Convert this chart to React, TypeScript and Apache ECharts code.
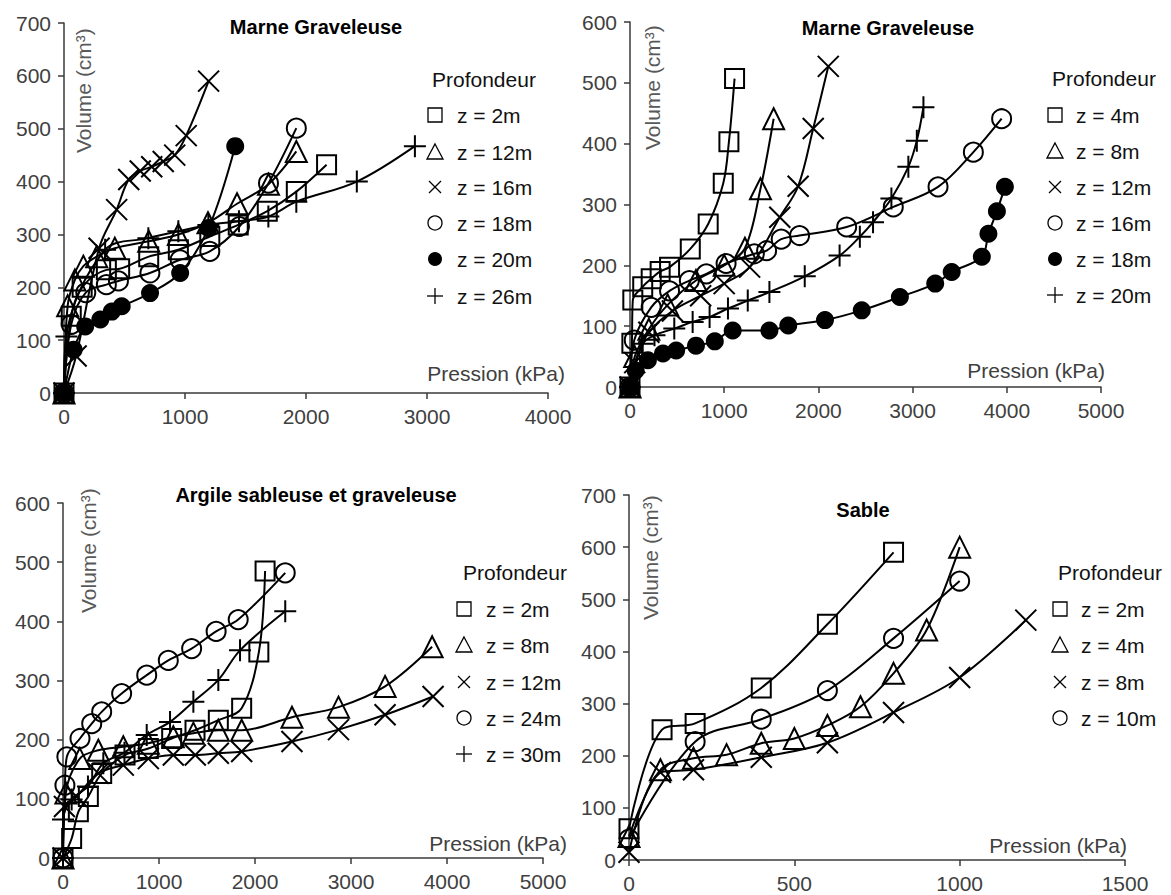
import React, { useEffect, useRef } from 'react';
import * as echarts from 'echarts';

const FONT = '"Liberation Sans", Arial, Helvetica, sans-serif';

// ---------- Panel 1 : Marne Graveleuse ----------
const p1Title = 'Marne Graveleuse';
const p1Names = ['z = 2m', 'z = 12m', 'z = 16m', 'z = 18m', 'z = 20m', 'z = 26m'];
const p1Markers = ['square', 'triangle', 'cross', 'circle', 'dot', 'plus'];
const mg1Z2 = [[0, 0], [60, 145], [150, 200], [350, 233], [460, 235], [700, 258], [945, 271], [1205, 296], [1440, 318], [1680, 344], [1920, 381], [2170, 432]];
const mg1Z12 = [[0, 0], [30, 165], [90, 214], [160, 240], [270, 258], [420, 274], [700, 287], [945, 300], [1190, 322], [1430, 358], [1690, 395], [1920, 457]];
const mg1Z16 = [[0, 0], [100, 70], [290, 274], [435, 347], [535, 404], [630, 420], [725, 428], [820, 438], [915, 450], [1010, 487], [1195, 590]];
const mg1Z18 = [[0, 0], [60, 130], [180, 190], [350, 205], [450, 212], [710, 227], [960, 252], [1205, 268], [1450, 315], [1690, 397], [1920, 501]];
const mg1Z20 = [[0, 0], [80, 82], [175, 126], [300, 139], [395, 154], [477, 164], [711, 189], [960, 227], [1195, 312], [1415, 467]];
const mg1Z26 = [[0, 0], [20, 107], [340, 271], [697, 293], [945, 306], [1193, 318], [1446, 325], [1689, 334], [1920, 362], [2420, 400], [2900, 467]];
const p1Data = [mg1Z2, mg1Z12, mg1Z16, mg1Z18, mg1Z20, mg1Z26];

// ---------- Panel 2 : Marne Graveleuse ----------
const p2Title = 'Marne Graveleuse';
const p2Names = ['z = 4m', 'z = 8m', 'z = 12m', 'z = 16m', 'z = 18m', 'z = 20m'];
const p2Markers = ['square', 'triangle', 'cross', 'circle', 'dot', 'plus'];
const mg2Z4 = [[0, 0], [20, 72], [30, 143], [135, 165], [225, 178], [320, 190], [420, 197], [640, 227], [830, 268], [990, 335], [1050, 403], [1110, 507]];
const mg2Z8 = [[0, 0], [50, 50], [200, 95], [400, 135], [700, 175], [1000, 200], [1220, 228], [1385, 326], [1525, 441]];
const mg2Z12 = [[0, 0], [50, 40], [200, 90], [450, 125], [750, 150], [1000, 170], [1270, 197], [1590, 279], [1785, 330], [1945, 425], [2105, 527]];
const mg2Z16 = [[0, 0], [45, 77], [225, 131], [420, 158], [630, 175], [810, 186], [1020, 203], [1320, 219], [1450, 224], [1605, 243], [1800, 249], [2300, 263], [2795, 296], [3270, 329], [3645, 386], [3945, 441]];
const mg2Z18 = [[0, 0], [60, 27], [190, 44], [350, 55], [490, 60], [700, 68], [900, 75], [1090, 93], [1480, 93], [1680, 101], [2070, 110], [2460, 126], [2865, 148], [3240, 170], [3415, 189], [3735, 214], [3805, 252], [3895, 289], [3980, 329]];
const mg2Z20 = [[0, 0], [135, 71], [260, 85], [470, 96], [665, 107], [845, 115], [1040, 129], [1250, 142], [1480, 156], [1855, 182], [2225, 216], [2440, 247], [2580, 271], [2775, 310], [2955, 362], [3045, 405], [3115, 460]];
const p2Data = [mg2Z4, mg2Z8, mg2Z12, mg2Z16, mg2Z18, mg2Z20];

// ---------- Panel 3 : Argile sableuse et graveleuse ----------
const p3Title = 'Argile sableuse et graveleuse';
const p3Names = ['z = 2m', 'z = 8m', 'z = 12m', 'z = 24m', 'z = 30m'];
const p3Markers = ['square', 'triangle', 'cross', 'circle', 'plus'];
const asZ2 = [[0, 0], [90, 33], [160, 78], [264, 104], [403, 143], [646, 174], [889, 185], [1132, 202], [1375, 216], [1618, 233], [1861, 253], [2040, 348], [2105, 485]];
const asZ8 = [[0, 0], [30, 110], [175, 168], [368, 182], [628, 188], [889, 194], [1149, 205], [1358, 211], [1618, 216], [1861, 216], [2385, 238], [2870, 255], [3355, 290], [3845, 357]];
const asZ12 = [[0, 0], [15, 87], [140, 104], [368, 143], [628, 157], [889, 168], [1149, 174], [1378, 174], [1618, 177], [1861, 180], [2385, 197], [2870, 217], [3355, 242], [3855, 273]];
const asZ24 = [[0, 0], [20, 123], [40, 171], [177, 202], [299, 227], [403, 247], [611, 278], [872, 309], [1097, 334], [1340, 354], [1595, 383], [1825, 403], [2315, 482]];
const asZ30 = [[0, 0], [0, 65], [90, 99], [260, 121], [420, 160], [640, 178], [872, 208], [1115, 230], [1358, 264], [1618, 301], [1844, 351], [2315, 417]];
const p3Data = [asZ2, asZ8, asZ12, asZ24, asZ30];

// ---------- Panel 4 : Sable ----------
const p4Title = 'Sable';
const p4Names = ['z = 2m', 'z = 4m', 'z = 8m', 'z = 10m'];
const p4Markers = ['square', 'triangle', 'cross', 'circle'];
const sbZ2 = [[0, 60], [100, 250], [200, 262], [400, 330], [600, 452], [800, 590]];
const sbZ4 = [[0, 45], [95, 173], [195, 195], [295, 202], [400, 224], [500, 233], [600, 258], [700, 294], [800, 358], [900, 441], [1000, 600]];
const sbZ8 = [[0, 15], [95, 168], [195, 173], [400, 197], [600, 225], [800, 283], [1000, 350], [1200, 460]];
const sbZ10 = [[0, 40], [200, 227], [400, 270], [600, 325], [800, 425], [1000, 535]];
const p4Data = [sbZ2, sbZ4, sbZ8, sbZ10];

// Axis ranges
const xMaxes = [4000, 5000, 5000, 1500];
const xSteps = [1000, 1000, 1000, 500];
const yMaxes = [700, 600, 600, 700];
const ySteps = [100, 100, 100, 100];

const legendTitle = 'Profondeur';
const xName = 'Pression (kPa)';
const yName = 'Volume (cm³)';

// ---------- Layout (positions / sizes) ----------
const layouts = [
  { grid: { left: 64, top: 23, width: 484, height: 370 }, title: [316, 27], vol: [83, 153], pre: [565, 373], lgTitle: [432, 79], lgSym: 435, lgText: 457, lgY: [115, 152, 187, 223, 259, 296] },
  { grid: { left: 630, top: 22, width: 471, height: 365 }, title: [888, 28], vol: [652, 150], pre: [1105, 370], lgTitle: [1052, 78], lgSym: 1055, lgText: 1076, lgY: [115, 151, 187, 223, 259, 295] },
  { grid: { left: 63, top: 503, width: 480, height: 355 }, title: [316, 495], vol: [88, 613], pre: [567, 843], lgTitle: [463, 572], lgSym: 464, lgText: 486, lgY: [609, 645, 682, 718, 754] },
  { grid: { left: 629, top: 495, width: 496, height: 365 }, title: [863, 510], vol: [650, 620], pre: [1127, 845], lgTitle: [1058, 572], lgSym: 1060, lgText: 1081, lgY: [609, 645, 682, 718] },
];

const panels = [
  { key: 'p1', title: p1Title, names: p1Names, markers: p1Markers, data: p1Data },
  { key: 'p2', title: p2Title, names: p2Names, markers: p2Markers, data: p2Data },
  { key: 'p3', title: p3Title, names: p3Names, markers: p3Markers, data: p3Data },
  { key: 'p4', title: p4Title, names: p4Names, markers: p4Markers, data: p4Data },
];

const SYM: Record<string, { symbol: string; size: number; fill: boolean }> = {
  square: { symbol: 'rect', size: 19, fill: false },
  triangle: { symbol: 'triangle', size: 21, fill: false },
  cross: { symbol: 'path://M0,0L10,10M10,0L0,10', size: 21, fill: false },
  circle: { symbol: 'circle', size: 19, fill: false },
  dot: { symbol: 'circle', size: 18, fill: true },
  plus: { symbol: 'path://M5,0L5,10M0,5L10,5', size: 22, fill: false },
};

const AXIS = '#3a3a3a';
const LABEL = '#404040';

function legendSymbol(kind: string, cx: number, cy: number): any[] {
  const s = { fill: 'none', stroke: '#000', lineWidth: 1.3 };
  const h = 7;
  switch (kind) {
    case 'square':
      return [{ type: 'rect', shape: { x: cx - h, y: cy - h, width: 2 * h, height: 2 * h }, style: s }];
    case 'triangle':
      return [{ type: 'polygon', shape: { points: [[cx, cy - h - 1], [cx + h + 1, cy + h], [cx - h - 1, cy + h]] }, style: s }];
    case 'cross':
      return [
        { type: 'line', shape: { x1: cx - 6, y1: cy - 6, x2: cx + 6, y2: cy + 6 }, style: s },
        { type: 'line', shape: { x1: cx + 6, y1: cy - 6, x2: cx - 6, y2: cy + 6 }, style: s },
      ];
    case 'circle':
      return [{ type: 'circle', shape: { cx, cy, r: h }, style: s }];
    case 'dot':
      return [{ type: 'circle', shape: { cx, cy, r: h }, style: { fill: '#000' } }];
    case 'plus':
      return [
        { type: 'line', shape: { x1: cx, y1: cy - 8, x2: cx, y2: cy + 8 }, style: s },
        { type: 'line', shape: { x1: cx - 8, y1: cy, x2: cx + 8, y2: cy }, style: s },
      ];
  }
  return [];
}

function txt(x: number, y: number, text: string, opts: any) {
  return {
    type: 'text',
    x,
    y,
    rotation: opts.rotation || 0,
    silent: true,
    style: {
      text,
      font: opts.font,
      fill: opts.fill,
      align: opts.align,
      verticalAlign: 'middle',
      textAlign: opts.align,
      textVerticalAlign: 'middle',
    },
  };
}

function buildOption() {
  const grid: any[] = [];
  const xAxis: any[] = [];
  const yAxis: any[] = [];
  const series: any[] = [];
  const graphic: any[] = [];

  panels.forEach((p, i) => {
    const L = layouts[i];
    grid.push({ ...L.grid, containLabel: false });
    const common = {
      type: 'value',
      gridIndex: i,
      min: 0,
      splitLine: { show: false },
      axisLine: { show: true, onZero: false, lineStyle: { color: AXIS, width: 1.5 } },
      axisTick: { show: true, inside: false, length: 6, lineStyle: { color: AXIS, width: 1.5 } },
    };
    xAxis.push({
      ...common,
      max: xMaxes[i],
      interval: xSteps[i],
      axisLabel: { fontSize: 21, fontFamily: FONT, color: LABEL, margin: 13, formatter: (v: number) => String(v) },
    });
    yAxis.push({
      ...common,
      max: yMaxes[i],
      interval: ySteps[i],
      axisLabel: { fontSize: 21, fontFamily: FONT, color: LABEL, margin: 13, formatter: (v: number) => String(v) },
    });

    p.data.forEach((d, j) => {
      const sym = SYM[p.markers[j]];
      series.push({
        type: 'line',
        name: p.key + ' ' + p.names[j],
        xAxisIndex: i,
        yAxisIndex: i,
        data: d,
        smooth: 0.35,
        clip: false,
        symbol: sym.symbol,
        symbolSize: sym.size,
        showSymbol: true,
        lineStyle: { color: '#000', width: 2 },
        itemStyle: {
          color: sym.fill ? '#000' : 'rgba(0,0,0,0)',
          borderColor: '#000',
          borderWidth: sym.fill ? 0 : 2,
        },
        emphasis: { disabled: true },
      });
    });

    // Titles & axis names
    graphic.push(txt(L.title[0], L.title[1], p.title, { font: 'bold 20px ' + FONT, fill: '#000', align: 'center' }));
    graphic.push(txt(L.vol[0], L.vol[1], yName, { font: '21px ' + FONT, fill: '#595959', align: 'left', rotation: Math.PI / 2 }));
    graphic.push(txt(L.pre[0], L.pre[1], xName, { font: '21px ' + FONT, fill: '#404040', align: 'right' }));

    // Legend
    graphic.push(txt(L.lgTitle[0], L.lgTitle[1], legendTitle, { font: '21px ' + FONT, fill: '#111', align: 'left' }));
    p.names.forEach((n, j) => {
      const y = L.lgY[j];
      legendSymbol(p.markers[j], L.lgSym, y).forEach((e) => graphic.push({ ...e, silent: true }));
      graphic.push(txt(L.lgText, y, n, { font: '21px ' + FONT, fill: '#111', align: 'left' }));
    });
  });

  return {
    animation: false,
    backgroundColor: '#ffffff',
    grid,
    xAxis,
    yAxis,
    series,
    graphic: { elements: graphic },
  };
}

export default function App() {
  const ref = useRef<HTMLDivElement>(null);
  useEffect(() => {
    if (!ref.current) return;
    const chart = echarts.init(ref.current, null, { renderer: 'svg' });
    chart.setOption(buildOption() as any);
    return () => chart.dispose();
  }, []);
  return (
    <div
      ref={ref}
      style={{ position: 'fixed', left: 0, top: 0, width: 1171, height: 895, background: '#fff' }}
    />
  );
}
